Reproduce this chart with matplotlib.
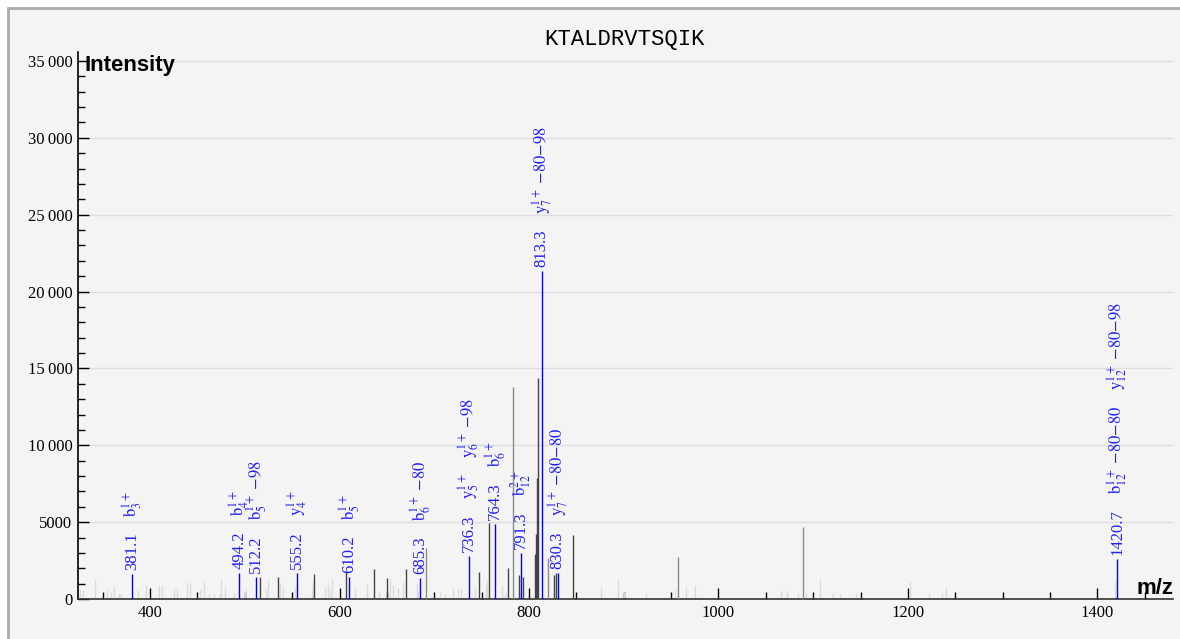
import numpy as np
import matplotlib
matplotlib.use("Agg")
from matplotlib import pyplot as plt
from matplotlib.patches import Rectangle
from matplotlib.ticker import MultipleLocator, FuncFormatter

plt.rcParams['mathtext.fontset'] = 'stix'

W, H = 1180, 639
peptide = "KTALDRVTSQIK"

# annotated (matched) fragment peaks
annot_mz = [381.1, 494.2, 512.2, 555.2, 610.2, 685.3, 736.3, 764.3, 791.3, 813.3, 830.3, 1420.7]
annot_int = [1625, 1690, 1430, 1690, 1430, 1370, 2800, 4880, 3000, 21330, 1700, 2600]
annot_ions = [
    [r'$\mathrm{b}_{3}^{1+}$'],
    [r'$\mathrm{b}_{4}^{1+}$'],
    [r'$\mathrm{b}_{5}^{1+}$ −98'],
    [r'$\mathrm{y}_{4}^{1+}$'],
    [r'$\mathrm{b}_{5}^{1+}$'],
    [r'$\mathrm{b}_{6}^{1+}$ −80'],
    [r'$\mathrm{y}_{5}^{1+}$', r'$\mathrm{y}_{6}^{1+}$ −98'],
    [r'$\mathrm{b}_{6}^{1+}$'],
    [r'$\mathrm{b}_{12}^{2+}$'],
    [r'$\mathrm{y}_{7}^{1+}$ −80−98'],
    [r'$\mathrm{y}_{7}^{1+}$ −80−80'],
    [r'$\mathrm{b}_{12}^{1+}$ −80−80', r'$\mathrm{y}_{12}^{1+}$ −80−98'],
]

# unmatched peaks, dark grey
dark_mz = [515.9, 534.8, 573.5, 606.9, 636.7, 649.8, 669.8, 747.6, 758.1, 778.2, 789.8,
           793.7, 806.3, 807.4, 808.8, 809.9, 826.4, 828.5, 846.7]
dark_int = [1450, 1410, 1625, 1850, 1940, 1350, 1930, 1770, 4930, 2040, 1560,
            1450, 2900, 4230, 7870, 14400, 1560, 1710, 4160]

# unmatched peaks, medium grey
mid_mz = [691.0, 783.1, 820.4, 956.9, 1088.9]
mid_int = [3300, 13800, 2690, 2710, 4680]

# noise peaks, light grey
light_mz = [325.9, 329.3, 342.3, 354.6, 359.2, 361.7, 367.0, 369.7, 387.3, 396.1, 409.5, 413.0,
            425.0, 428.5, 439.0, 442.5, 453.0, 456.7, 462.0, 467.2, 474.2, 475.3, 479.5, 488.7,
            500.0, 522.4, 524.9, 537.2, 540.7, 553.0, 570.6, 572.4, 584.7, 587.5, 590.0, 592.4,
            616.4, 628.7, 641.7, 653.3, 656.8, 662.0, 667.0, 681.5, 683.0, 706.0, 711.3, 719.4,
            725.4, 728.2, 743.0, 754.3, 756.0, 771.9, 774.7, 790.5, 875.6, 894.2, 900.6, 923.5,
            954.0, 965.3, 975.2, 1066.0, 1072.0, 1084.0, 1092.0, 1107.0, 1121.0, 1128.0, 1145.0,
            1202.0, 1222.4, 1235.5, 1239.8, 1418.0]
light_int = [650, 650, 1300, 585, 450, 850, 400, 300, 585, 910, 910, 910,
             700, 700, 1040, 1040, 585, 1100, 350, 350, 350, 1300, 800, 400,
             600, 650, 1240, 1060, 700, 800, 585, 1130, 800, 1040, 585, 1280,
             700, 975, 480, 1280, 910, 700, 1100, 1040, 585, 480, 325, 700,
             630, 630, 690, 910, 1235, 910, 400, 450, 780, 1300, 475, 390,
             585, 780, 910, 520, 540, 400, 370, 1280, 400, 300, 420,
             1130, 420, 380, 800, 1130]

fig = plt.figure(figsize=(W / 100, H / 100), dpi=100, facecolor='white')
fig.patches.append(Rectangle((8 / W, -0.1), 1.2, 1 - 8 / H + 0.1, transform=fig.transFigure,
                             fc='#f4f4f4', ec='#aaaaaa', lw=2, zorder=-10))

ax = fig.add_axes([78 / W, 1 - 599 / H, (1173 - 78) / W, (599 - 52) / H])
ax.patch.set_visible(False)
ax.set_xlim(324, 1479.7)
ax.set_ylim(0, 35580)

ax.vlines(light_mz, 0, light_int, colors='#dcdcdc', lw=1.0, zorder=2)
ax.vlines(mid_mz, 0, mid_int, colors='#8c8c8c', lw=1.0, zorder=3)
ax.vlines(dark_mz, 0, dark_int, colors='#444444', lw=1.0, zorder=4)
ax.vlines(annot_mz, 0, annot_int, colors='#0000ff', lw=1.0, zorder=5)

blue = '#2020ff'
for mz, inten, ions in zip(annot_mz, annot_int, annot_ions):
    prev = ax.annotate(f"{mz:.1f}", xy=(mz, inten), xytext=(0, 3), textcoords='offset points',
                       rotation=90, ha='center', va='bottom', color=blue,
                       fontsize=12, family='Liberation Serif', zorder=6)
    for ion in ions:
        prev = ax.annotate(ion, xy=(0.5, 1), xycoords=prev, xytext=(0, 11),
                           textcoords='offset points', rotation=90, ha='center', va='bottom',
                           color=blue, fontsize=12, family='STIXGeneral', zorder=6)

# axes styling
for s in ['top', 'right']:
    ax.spines[s].set_visible(False)
ax.spines['left'].set_linewidth(1.2)
ax.spines['bottom'].set_linewidth(1.2)
ax.spines['bottom'].set_color('#333333')

ax.xaxis.set_major_locator(MultipleLocator(200))
ax.xaxis.set_minor_locator(MultipleLocator(50))
ax.yaxis.set_major_locator(MultipleLocator(5000))
ax.yaxis.set_minor_locator(MultipleLocator(1000))


def fmt_int(v, pos):
    v = int(round(v))
    if v >= 10000:
        return f"{v:,}".replace(',', '\u2009')
    return str(v)


ax.yaxis.set_major_formatter(FuncFormatter(fmt_int))
ax.tick_params(which='major', direction='in', length=8, width=1, pad=4, labelsize=12)
ax.tick_params(which='minor', direction='in', length=5, width=1)
for lab in ax.get_xticklabels() + ax.get_yticklabels():
    lab.set_family('Liberation Serif')

ax.yaxis.grid(True, color='#dddddd', lw=1)
ax.set_axisbelow(True)

fig.text(625 / W, 1 - 40 / H, peptide, ha='center', va='center', fontsize=16,
         family='Liberation Mono')
fig.text(85 / W, 1 - 66 / H, 'Intensity', ha='left', va='center', fontsize=16,
         fontweight='bold', family='Liberation Sans')
fig.text(1173 / W, 1 - 589 / H, 'm/z', ha='right', va='center', fontsize=16,
         fontweight='bold', family='Liberation Sans')

fig.savefig('out.png', dpi=100, facecolor=fig.get_facecolor())
